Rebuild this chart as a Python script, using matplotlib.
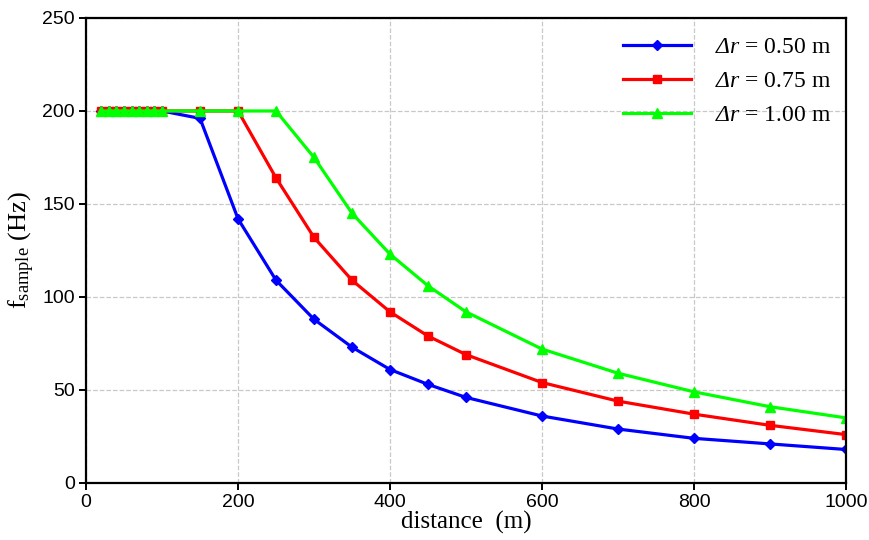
import numpy as np
import matplotlib.pyplot as plt

plt.rcParams['mathtext.fontset'] = 'custom'
plt.rcParams['mathtext.rm'] = 'Liberation Serif'
plt.rcParams['mathtext.it'] = 'Liberation Serif:italic'
# the 'it' slot keeps Greek capitals upright, so use the sf slot for italic Δ
plt.rcParams['mathtext.sf'] = 'Liberation Serif:italic'

# sampling frequency vs distance for three range resolutions
distance = [20, 30, 40, 50, 60, 70, 80, 90, 100, 150, 200, 250, 300, 350,
            400, 450, 500, 600, 700, 800, 900, 1000]
f_050 = [200, 200, 200, 200, 200, 200, 200, 200, 200, 196, 142, 109, 88, 73,
         61, 53, 46, 36, 29, 24, 21, 18]
f_075 = [200, 200, 200, 200, 200, 200, 200, 200, 200, 200, 200, 164, 132, 109,
         92, 79, 69, 54, 44, 37, 31, 26]
f_100 = [200, 200, 200, 200, 200, 200, 200, 200, 200, 200, 200, 200, 175, 145,
         123, 106, 92, 72, 59, 49, 41, 35]
labels = ['0.50', '0.75', '1.00']

fig = plt.figure(figsize=(8.7, 5.4), dpi=100)
ax = fig.add_axes([0.0989, 0.1056, 0.8735, 0.8611])

series = [(f_050, '#0000ff', 'D', 5.5), (f_075, '#ff0000', 's', 5.5), (f_100, '#00ff00', '^', 6.5)]
for (vals, col, mk, ms), lab in zip(series, labels):
    ax.plot(distance, vals, color=col, marker=mk, markersize=ms, linewidth=2.3,
            label=r'$\mathsf{Δr}$ = ' + lab + ' m')

ax.set_xlim(0, 1000)
ax.set_ylim(0, 250)
ax.set_xticks(np.arange(0, 1001, 200))
ax.set_yticks(np.arange(0, 251, 50))
ax.grid(True, color='#c8c8c8', linestyle='--', linewidth=0.9)
ax.set_axisbelow(True)

for s in ax.spines.values():
    s.set_linewidth(1.6)
ax.tick_params(direction='out', length=5, width=1.4, labelsize=14, pad=3)
for t in ax.get_xticklabels() + ax.get_yticklabels():
    t.set_family('Liberation Sans')

ax.set_xlabel('distance  (m)', fontsize=18, family='Liberation Serif', labelpad=0)
ax.set_ylabel(r'$\mathrm{f}_{\mathrm{sample}}$ (Hz)', fontsize=19, family='Liberation Serif', labelpad=4)

leg = ax.legend(loc='upper right', frameon=False, handlelength=2.9,
                prop={'family': 'Liberation Serif', 'size': 17},
                borderaxespad=0.4, labelspacing=0.52, handletextpad=1.0,
                bbox_to_anchor=(1.005, 1.0))

fig.savefig('out.png', dpi=100)
